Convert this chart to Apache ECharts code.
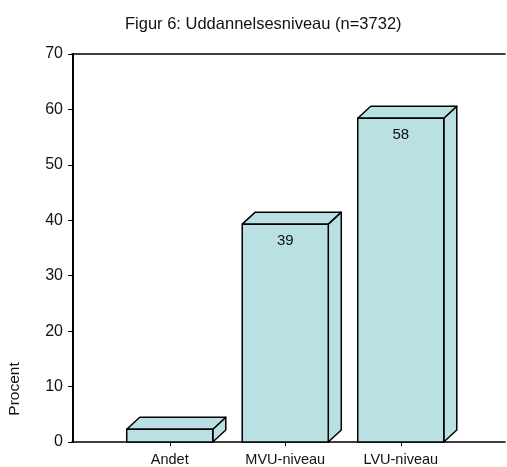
<!DOCTYPE html>
<html>
<head>
<meta charset="utf-8">
<script src="https://cdn.jsdelivr.net/npm/echarts@6/dist/echarts.min.js"></script>
<style>html,body{margin:0;padding:0;background:#fff;}#c{width:507px;height:467px;}</style>
</head>
<body>
<div id="c"></div>
<script>
var categories = ['Andet', 'MVU-niveau', 'LVU-niveau'];
var values = [2.3, 39.3, 58.4];
var labels = ['', '39', '58'];
var yTicks = { min: 0, max: 70, interval: 10 };
var titleText = 'Figur 6: Uddannelsesniveau (n=3732)';
var yName = 'Procent';

var FONT = '"Liberation Sans", Arial, sans-serif';
var FILL = '#b9e0e2';
var chart = echarts.init(document.getElementById('c'), null, { renderer: 'canvas' });

function renderItem(params, api) {
  var idx = api.value(0);
  var val = api.value(1);
  var top = api.coord([idx, val]);
  var bot = api.coord([idx, 0]);
  var w = api.size([1, 0])[0] * 0.745;
  var dx = 13, dy = 12;
  var x0 = top[0] - w / 2, x1 = top[0] + w / 2;
  var yt = top[1], yb = bot[1];
  var st = { fill: FILL, stroke: '#000', lineWidth: 1.5, lineJoin: 'round' };
  var children = [
    { type: 'polygon', shape: { points: [[x1, yb], [x1 + dx, yb - dy], [x1 + dx, yt - dy], [x1, yt]] }, style: st },
    { type: 'polygon', shape: { points: [[x0, yt], [x0 + dx, yt - dy], [x1 + dx, yt - dy], [x1, yt]] }, style: st },
    { type: 'rect', shape: { x: x0, y: yt, width: w, height: yb - yt }, style: st }
  ];
  var lab = labels[params.dataIndex];
  if (lab) {
    children.push({ type: 'text', style: { text: lab, x: top[0], y: yt + 17, align: 'center', verticalAlign: 'middle', fill: '#111', font: '15px ' + FONT } });
  }
  return { type: 'group', children: children };
}

var option = {
  animation: false,
  backgroundColor: '#fff',
  title: { text: titleText, left: 120, top: 11, textStyle: { fontFamily: FONT, fontSize: 16.5, fontWeight: 'normal', color: '#111' } },
  grid: [
    { left: 112, right: 48.5, top: 54, bottom: 25, containLabel: false },
    { left: 72, right: 2, top: 54, bottom: 25, containLabel: false }
  ],
  xAxis: [
    { gridIndex: 0, type: 'category', data: categories, boundaryGap: true,
      axisLine: { show: false },
      axisTick: { show: true, alignWithLabel: true, length: 4, lineStyle: { color: '#000', width: 1 } },
      axisLabel: { color: '#111', fontFamily: FONT, fontSize: 14.5, margin: 10 } },
    { gridIndex: 1, type: 'category', data: [''], position: 'bottom',
      axisLine: { show: true, lineStyle: { color: '#000', width: 1.5 } },
      axisTick: { show: false }, axisLabel: { show: false } },
    { gridIndex: 1, type: 'category', data: [''], position: 'top',
      axisLine: { show: true, lineStyle: { color: '#000', width: 1.5 } },
      axisTick: { show: false }, axisLabel: { show: false } }
  ],
  yAxis: [
    { gridIndex: 0, type: 'value', min: yTicks.min, max: yTicks.max, interval: yTicks.interval, offset: 39,
      axisLine: { show: true, lineStyle: { color: '#000', width: 2 } },
      axisTick: { show: true, length: 5, lineStyle: { color: '#000', width: 1 } },
      axisLabel: { color: '#111', fontFamily: FONT, fontSize: 16, margin: 10 },
      splitLine: { show: false } },
    { gridIndex: 1, type: 'value', min: 0, max: 70, show: false }
  ],
  graphic: [
    { type: 'text', x: 15, y: 389, rotation: Math.PI / 2,
      style: { text: yName, align: 'center', verticalAlign: 'middle', fill: '#111', font: '15.5px ' + FONT } }
  ],
  series: [
    { type: 'custom', xAxisIndex: 0, yAxisIndex: 0, renderItem: renderItem,
      data: values.map(function (v, i) { return [i, v]; }), clip: false }
  ]
};
chart.setOption(option);
</script>
</body>
</html>
